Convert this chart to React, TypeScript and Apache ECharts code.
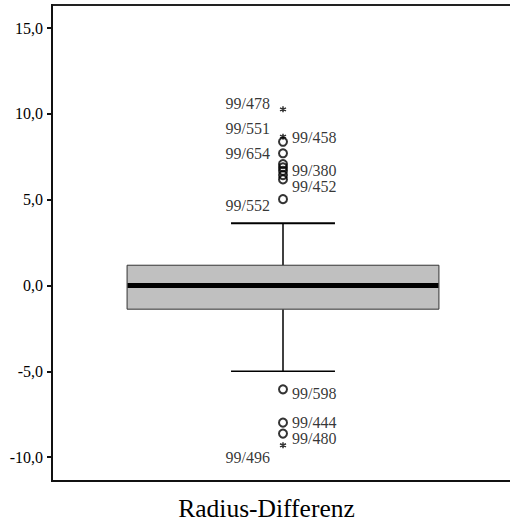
import React, { useEffect, useRef } from "react";
import * as echarts from "echarts";

// ---- data ----
const categories = ["Radius-Differenz"];
// [min (lower whisker), Q1, median, Q3, max (upper whisker)]
const boxStats = [-5.0, -1.38, 0.0, 1.18, 3.63];
const circleOutliers = [8.37, 7.7, 7.07, 6.88, 6.68, 6.43, 6.18, 5.03, -6.05, -7.99, -8.63];
const extremeOutliers = [10.26, 8.67, -9.31];
const caseLabels = ["99/478", "99/551", "99/458", "99/654", "99/380", "99/452", "99/552", "99/598", "99/444", "99/480", "99/496"];
const caseLabelValues = [10.26, 8.67, 8.37, 7.7, 6.68, 6.18, 5.03, -6.05, -7.99, -8.63, -9.31];
const yTicks = [-10, -5, 0, 5, 10, 15];
const yMin = -11.39;
const yMax = 16.34;

// label placement (style only)
const labelPlacement: Record<string, { side: "left" | "right"; dy: number }> = {
  "99/478": { side: "left", dy: -6 },
  "99/551": { side: "left", dy: -8 },
  "99/458": { side: "right", dy: -4 },
  "99/654": { side: "left", dy: 0 },
  "99/380": { side: "right", dy: 0 },
  "99/452": { side: "right", dy: 7 },
  "99/552": { side: "left", dy: 6 },
  "99/598": { side: "right", dy: 4 },
  "99/444": { side: "right", dy: 0 },
  "99/480": { side: "right", dy: 5 },
  "99/496": { side: "left", dy: 12 },
};

const FONT = "Times New Roman, Liberation Serif, serif";
const fmt = (v: number) => v.toFixed(1).replace(".", ",");

export default function App() {
  const ref = useRef<HTMLDivElement>(null);
  useEffect(() => {
    if (!ref.current) return;
    const chart = echarts.init(ref.current, null, { renderer: "svg" });
    const cat = categories[0];
    chart.setOption({
      animation: false,
      backgroundColor: "#fff",
      textStyle: { fontFamily: FONT },
      grid: {
        left: 52,
        top: 5,
        bottom: 41,
        right: 2,
        show: true,
        borderColor: "#222",
        borderWidth: 2,
        backgroundColor: "transparent",
      },
      xAxis: {
        type: "category",
        data: categories,
        boundaryGap: true,
        axisLine: { onZero: false, lineStyle: { color: "#111", width: 2 } },
        axisTick: { alignWithLabel: true, length: 5, lineStyle: { color: "#111", width: 1 } },
        axisLabel: {
          fontFamily: FONT,
          fontSize: 25.5,
          color: "#000",
          margin: 14,
          padding: [0, 33, 0, 0],
        },
        splitLine: { show: false },
      },
      yAxis: {
        type: "value",
        min: yMin,
        max: yMax,
        axisLine: { show: true, onZero: false, lineStyle: { color: "#111", width: 2 } },
        axisTick: { show: true, length: 5, customValues: yTicks, lineStyle: { color: "#111", width: 2 } },
        axisLabel: {
          customValues: yTicks,
          formatter: (v: number) => fmt(v),
          fontFamily: FONT,
          fontSize: 16,
          color: "#000",
          margin: 9,
          padding: [0, 0.01, 0, 0],
        },
        splitLine: { show: false },
      },
      series: [
        {
          type: "custom",
          data: [[0, ...boxStats]],
          encode: { x: 0, y: [1, 2, 3, 4, 5] },
          renderItem: (params: any, api: any) => {
            const xv = api.value(0);
            const band = api.size([1, 0])[0];
            const boxW = band * 0.675;
            const capW = band * 0.225;
            const pMin = api.coord([xv, api.value(1)]);
            const pQ1 = api.coord([xv, api.value(2)]);
            const pMed = api.coord([xv, api.value(3)]);
            const pQ3 = api.coord([xv, api.value(4)]);
            const pMax = api.coord([xv, api.value(5)]);
            const cx = pMed[0];
            return {
              type: "group",
              children: [
                { type: "line", shape: { x1: cx, y1: pQ3[1], x2: cx, y2: pMax[1] }, style: { stroke: "#000", lineWidth: 1.5 } },
                { type: "line", shape: { x1: cx, y1: pQ1[1], x2: cx, y2: pMin[1] }, style: { stroke: "#000", lineWidth: 1.5 } },
                { type: "line", shape: { x1: cx - capW / 2, y1: pMax[1], x2: cx + capW / 2, y2: pMax[1] }, style: { stroke: "#000", lineWidth: 2 } },
                { type: "line", shape: { x1: cx - capW / 2, y1: pMin[1], x2: cx + capW / 2, y2: pMin[1] }, style: { stroke: "#000", lineWidth: 1.5 } },
                {
                  type: "rect",
                  shape: { x: cx - boxW / 2, y: pQ3[1], width: boxW, height: pQ1[1] - pQ3[1] },
                  style: { fill: "#c0c0c0", stroke: "#333", lineWidth: 1 },
                },
                { type: "line", shape: { x1: cx - boxW / 2 + 0.5, y1: pMed[1], x2: cx + boxW / 2 - 0.5, y2: pMed[1] }, style: { stroke: "#000", lineWidth: 5 } },
              ],
            };
          },
          z: 2,
        },
        {
          type: "scatter",
          data: circleOutliers.map((v) => [cat, v]),
          symbol: "circle",
          symbolSize: 8,
          itemStyle: { color: "transparent", borderColor: "#000", borderWidth: 2 },
          z: 3,
        },
        {
          type: "scatter",
          data: extremeOutliers.map((v) => [cat, v]),
          symbol: "path://M5,0L5,10M0.67,2.5L9.33,7.5M0.67,7.5L9.33,2.5",
          symbolSize: 6,
          itemStyle: { color: "transparent", borderColor: "#000", borderWidth: 1.5 },
          z: 3,
        },
        {
          type: "scatter",
          data: caseLabelValues.map((v, i) => {
            const name = caseLabels[i];
            const p = labelPlacement[name];
            return {
              value: [cat, v],
              label: {
                show: true,
                formatter: name,
                position: p.side,
                distance: p.side === "left" ? 9 : 5,
                offset: [0, p.dy],
              },
            };
          }),
          symbol: "circle",
          symbolSize: 8,
          itemStyle: { color: "transparent", borderWidth: 0 },
          label: { fontFamily: FONT, fontSize: 16, color: "#000", padding: [0, 0.01, 0, 0] },
          silent: true,
          z: 4,
        },
      ],
    });
    return () => chart.dispose();
  }, []);
  return (
    <div style={{ position: "fixed", left: 0, top: 0, width: 510, height: 522, overflow: "hidden", background: "#fff" }}>
      <div ref={ref} style={{ width: 516, height: 522 }} />
    </div>
  );
}
